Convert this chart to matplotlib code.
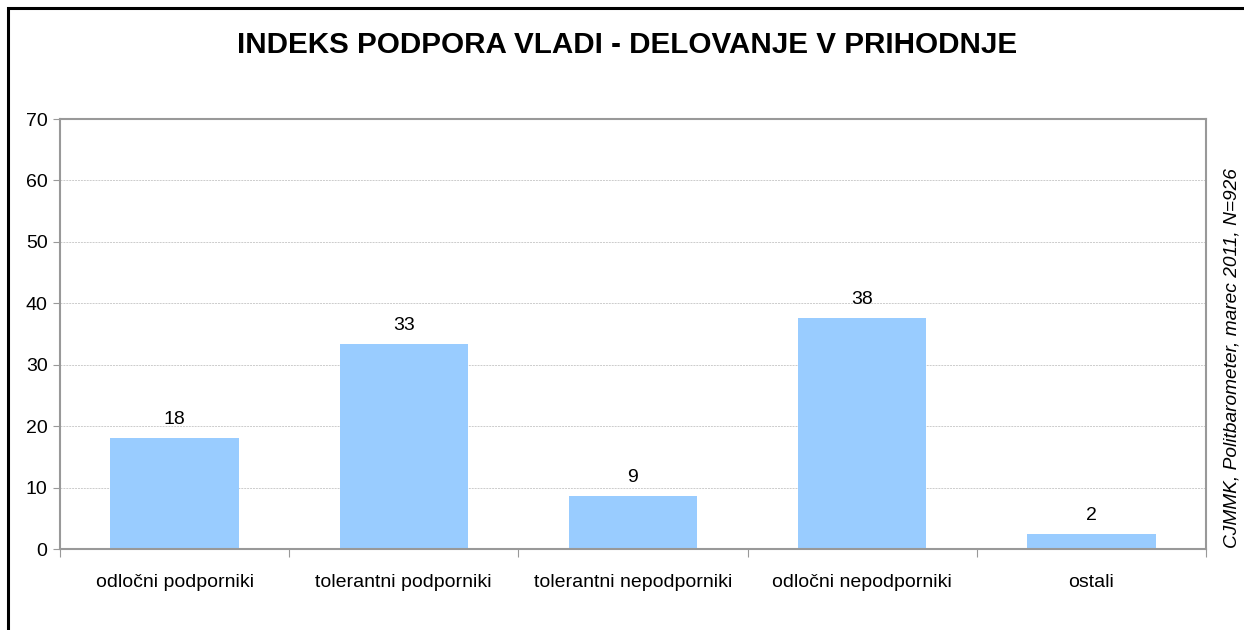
import matplotlib.pyplot as plt
from matplotlib.patches import Rectangle

plt.rcParams['font.family'] = ['Liberation Sans', 'DejaVu Sans']

# Data
categories = ['odločni podporniki', 'tolerantni podporniki', 'tolerantni nepodporniki',
              'odločni nepodporniki', 'ostali']
values = [18.1, 33.4, 8.6, 37.6, 2.4]
yticks = [0, 10, 20, 30, 40, 50, 60, 70]

W, H = 1244, 630
fig = plt.figure(figsize=(W / 100, H / 100), dpi=100)

# outer frame of the chart
fig.patches.append(Rectangle((8 / W, -0.05), 1.1, 1 - 8 / H + 0.05, transform=fig.transFigure,
                             fill=False, edgecolor='black', linewidth=2.2))

ax = fig.add_axes([60 / W, 1 - 549 / H, (1206 - 60) / W, (549 - 119) / H])

x = range(len(categories))
ax.bar(x, values, width=0.56, color='#99ccff', zorder=2)
for xi, v in zip(x, values):
    ax.text(xi, v + 1.6, '%.0f' % v, ha='center', va='bottom', fontsize=14)

ax.set_xlim(-0.5, len(categories) - 0.5)
ax.set_ylim(0, 70)
ax.set_yticks(yticks)
ax.tick_params(axis='y', labelsize=14, length=5, color='#999999', pad=4)

# category ticks sit between the bars
ax.set_xticks([i - 0.5 for i in range(len(categories) + 1)])
ax.set_xticklabels([])
ax.set_xticks(list(x), minor=True)
ax.set_xticklabels(categories, minor=True, fontsize=14)
ax.tick_params(axis='x', which='major', length=6, color='#999999', direction='out')
ax.tick_params(axis='x', which='minor', length=0, pad=18)

ax.grid(axis='y', color='#cccccc', linestyle=(0, (2, 1)), linewidth=0.7, zorder=0)
for s in ax.spines.values():
    s.set_color('#999999')
    s.set_linewidth(1.5)

fig.text(627 / W, 1 - 45 / H, 'INDEKS PODPORA VLADI - DELOVANJE V PRIHODNJE',
         ha='center', va='center', fontsize=21.3, fontweight='bold')
fig.text(1232 / W, 1 - 358 / H, 'CJMMK, Politbarometer, marec 2011, N=926',
         rotation=90, ha='center', va='center', fontsize=13.8, style='italic')

fig.savefig('out.png', dpi=100)
